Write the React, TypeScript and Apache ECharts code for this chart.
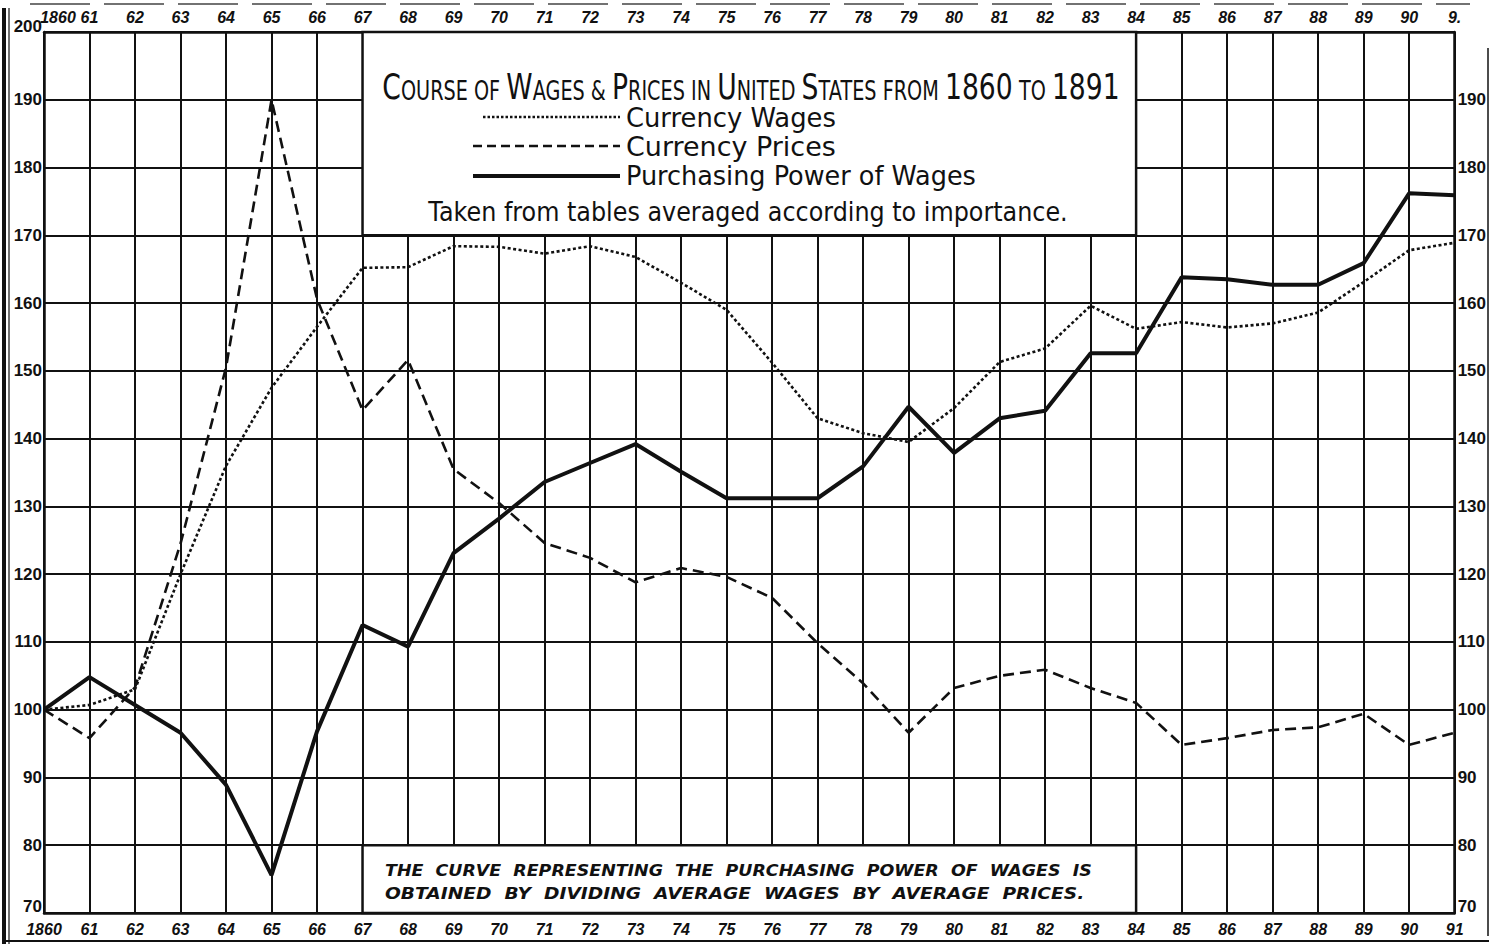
import React, { useEffect, useRef } from "react";
import * as echarts from "echarts";

// ---------------- data ----------------
const years: number[] = [
  1860, 1861, 1862, 1863, 1864, 1865, 1866, 1867, 1868, 1869, 1870, 1871, 1872, 1873, 1874, 1875,
  1876, 1877, 1878, 1879, 1880, 1881, 1882, 1883, 1884, 1885, 1886, 1887, 1888, 1889, 1890, 1891,
];

const currencyWages: number[] = [
  100, 100.7, 103, 120, 136, 147.5, 156.5, 165.2, 165.3, 168.4, 168.3, 167.3, 168.4, 166.8, 163, 159,
  151.2, 143, 140.8, 139.5, 144.5, 151.3, 153.3, 159.6, 156.2, 157.2, 156.4, 157, 158.6, 163.1, 167.8, 168.9,
];

const currencyPrices: number[] = [
  100, 95.8, 103.3, 124.5, 150.5, 190, 160.6, 144.2, 151.6, 135.5, 130.5, 124.6, 122.4, 118.8, 120.9, 119.6,
  116.5, 109.8, 103.9, 96.6, 103.2, 105, 105.9, 103.2, 101, 94.8, 95.8, 97, 97.4, 99.4, 94.8, 96.6,
];

const purchasingPower: number[] = [
  100, 104.8, 100.7, 96.6, 88.9, 75.6, 96.8, 112.5, 109.3, 123.1, 128.2, 133.6, 136.4, 139.2, 135.1, 131.2,
  131.2, 131.2, 135.9, 144.7, 137.9, 143, 144.1, 152.6, 152.6, 163.8, 163.5, 162.7, 162.7, 165.9, 176.2, 175.9,
];

const bottomYearLabels: string[] = [
  "1860", "61", "62", "63", "64", "65", "66", "67", "68", "69", "70", "71", "72", "73", "74", "75",
  "76", "77", "78", "79", "80", "81", "82", "83", "84", "85", "86", "87", "88", "89", "90", "91",
];
const topYearLabels: string[] = [
  "1860", "61", "62", "63", "64", "65", "66", "67", "68", "69", "70", "71", "72", "73", "74", "75",
  "76", "77", "78", "79", "80", "81", "82", "83", "84", "85", "86", "87", "88", "89", "90", "9.",
];

const seriesNames: string[] = ["Currency Wages", "Currency Prices", "Purchasing Power of Wages"];

const titleParts: [string, "b" | "s"][] = [
  ["C", "b"], ["OURSE OF ", "s"], ["W", "b"], ["AGES & ", "s"], ["P", "b"], ["RICES IN ", "s"],
  ["U", "b"], ["NITED ", "s"], ["S", "b"], ["TATES FROM ", "s"], ["1860", "b"], [" TO ", "s"], ["1891", "b"],
];
const subtitleText = "Taken from tables averaged according to importance.";
const noteLines: string[] = [
  "THE  CURVE  REPRESENTING  THE  PURCHASING  POWER  OF  WAGES  IS",
  "OBTAINED  BY  DIVIDING  AVERAGE  WAGES  BY  AVERAGE  PRICES.",
];

// ---------------- helpers ----------------
const FONT = "'DejaVu Sans', 'Noto Sans', sans-serif";
const NUMFONT = "'Liberation Sans', Arial, sans-serif";
const INK = "#111";

function measure(text: string, font: string): number {
  const c = document.createElement("canvas");
  const ctx = c.getContext("2d");
  if (!ctx) return text.length * 10;
  ctx.font = font;
  return ctx.measureText(text).width;
}

export default function App() {
  const ref = useRef<HTMLDivElement>(null);

  useEffect(() => {
    if (!ref.current) return;
    const chart = echarts.init(ref.current, undefined, { renderer: "svg" });

    const BIG = 36;
    const SMALL = 26;
    const titleW = titleParts.reduce(
      (s, [t, k]) => s + measure(t, `${k === "b" ? BIG : SMALL}px ${FONT}`),
      0
    );
    const titleScale = 737 / titleW;
    const richTitle = titleParts.map(([t, k]) => `{${k}|${t}}`).join("");

    const LEG = 27;
    const legendScale = (text: string, w: number) => w / measure(text, `${LEG}px ${FONT}`);
    const subScale = 640 / measure(subtitleText, `${LEG}px ${FONT}`);
    const NOTE = 16;
    const noteFont = `italic bold ${NOTE}px ${FONT}`;
    const noteScale1 = 707 / measure(noteLines[0], noteFont);
    const noteScale2 = 700 / measure(noteLines[1], noteFont);

    const mkText = (
      x: number, y: number, text: string, size: number, sx: number,
      align: string, extra: Record<string, any> = {}
    ) => ({
      type: "text",
      x, y, scaleX: sx, z: 100,
      style: {
        text, fill: INK, fontSize: size, fontFamily: FONT,
        align, textAlign: align, verticalAlign: "middle", textVerticalAlign: "middle",
        ...extra,
      },
    });

    const legendLine = (x1: number, x2: number, y: number, w: number, dash: number[] | null) => ({
      type: "line", z: 100,
      shape: { x1, y1: y, x2, y2: y },
      style: { stroke: INK, lineWidth: w, lineDash: dash || undefined },
    });

    const yFont = { color: INK, fontSize: 17, fontWeight: "bold", fontFamily: NUMFONT };
    const yRich = {
      hi: { ...yFont, lineHeight: 16, padding: [0, 0, 12, 0] },
      lo: { ...yFont, lineHeight: 16, padding: [0, 0, 14, 0] },
      n: { ...yFont },
    };
    const yFormatter = (hide200: boolean) => (v: number) => {
      if (v === 200) return hide200 ? "" : `{hi|${v}}`;
      if (v === 70) return `{lo|${v}}`;
      return `{n|${v}}`;
    };
    const xFont = { color: INK, fontSize: 16, fontWeight: "bold", fontStyle: "italic", fontFamily: NUMFONT };
    const xRich = {
      first: { ...xFont, padding: [0, 0, 0, 28] },
      n: { ...xFont },
    };

    const option: any = {
      animation: false,
      backgroundColor: "#fff",
      grid: { left: 44, right: 34, top: 32, bottom: 34, containLabel: false },
      xAxis: [
        {
          type: "value", position: "bottom", min: 1860, max: 1891, interval: 1,
          axisLine: { show: true, lineStyle: { color: INK, width: 2.5 } },
          axisTick: { show: false },
          splitLine: { show: true, lineStyle: { color: INK, width: 2 } },
          axisLabel: { ...xFont, margin: 8, formatter: (v: number) => bottomYearLabels[v - 1860] ?? "" },
        },
        {
          type: "value", position: "top", min: 1860, max: 1891, interval: 1,
          axisLine: { show: true, lineStyle: { color: INK, width: 2.5 } },
          axisTick: { show: false },
          splitLine: { show: false },
          axisLabel: {
            ...xFont, margin: 7, rich: xRich,
            formatter: (v: number) => {
              const t = topYearLabels[v - 1860] ?? "";
              return v === 1860 ? `{first|${t}}` : `{n|${t}}`;
            },
          },
        },
      ],
      yAxis: [
        {
          type: "value", position: "left", min: 70, max: 200, interval: 10,
          axisLine: { show: true, lineStyle: { color: INK, width: 2.5 } },
          axisTick: { show: false },
          splitLine: { show: true, lineStyle: { color: INK, width: 2 } },
          axisLabel: { ...yFont, margin: 2, formatter: yFormatter(false), rich: yRich },
        },
        {
          type: "value", position: "right", min: 70, max: 200, interval: 10,
          axisLine: { show: true, lineStyle: { color: INK, width: 2.5 } },
          axisTick: { show: false },
          splitLine: { show: false },
          axisLabel: { ...yFont, margin: 3, formatter: yFormatter(true), rich: yRich },
        },
      ],
      series: [
        {
          name: seriesNames[0], type: "line", xAxisIndex: 0, yAxisIndex: 0,
          data: years.map((y, i) => [y, currencyWages[i]]),
          showSymbol: false, silent: true, z: 3,
          lineStyle: { color: INK, width: 2.6, type: [3, 2.5] },
        },
        {
          name: seriesNames[1], type: "line", xAxisIndex: 0, yAxisIndex: 0,
          data: years.map((y, i) => [y, currencyPrices[i]]),
          showSymbol: false, silent: true, z: 3,
          lineStyle: { color: INK, width: 2.6, type: [11, 6] },
        },
        {
          name: seriesNames[2], type: "line", xAxisIndex: 0, yAxisIndex: 0,
          data: years.map((y, i) => [y, purchasingPower[i]]),
          showSymbol: false, silent: true, z: 4,
          lineStyle: { color: INK, width: 4 },
          markArea: {
            silent: true,
            z: 1,
            label: { show: false },
            itemStyle: { color: "#fff", borderColor: INK, borderWidth: 2.5, opacity: 1 },
            data: [
              [{ coord: [1867, 200] }, { coord: [1884, 170] }],
              [{ coord: [1867, 80] }, { coord: [1884, 70] }],
            ],
          },
        },
      ],
      graphic: [
        // scan frame
        { type: "line", z: 100, shape: { x1: 4, y1: 8, x2: 4, y2: 944 }, style: { stroke: INK, lineWidth: 4 } },
        { type: "line", z: 100, shape: { x1: 9, y1: 8, x2: 9, y2: 944 }, style: { stroke: INK, lineWidth: 1.2 } },
        { type: "line", z: 100, shape: { x1: 4, y1: 941, x2: 1489, y2: 941 }, style: { stroke: INK, lineWidth: 2 } },
        { type: "line", z: 100, shape: { x1: 30, y1: 4, x2: 1470, y2: 4 }, style: { stroke: "#444", lineWidth: 1.5, lineDash: [60, 14] } },
        { type: "line", z: 100, shape: { x1: 1488, y1: 48, x2: 1488, y2: 936 }, style: { stroke: INK, lineWidth: 1.5 } },
        // title block
        {
          type: "text", x: 751, y: 84, scaleX: titleScale, z: 100,
          style: {
            text: richTitle, fill: INK, fontFamily: FONT,
            align: "center", textAlign: "center", verticalAlign: "middle", textVerticalAlign: "middle",
            rich: {
              b: { fontSize: BIG, fontFamily: FONT, fill: INK, verticalAlign: "bottom", lineHeight: 40 },
              s: { fontSize: SMALL, fontFamily: FONT, fill: INK, verticalAlign: "bottom", lineHeight: 40 },
            },
          },
        },
        legendLine(483, 620, 117, 2.5, [2.5, 2]),
        legendLine(473, 620, 146, 2.5, [9, 5]),
        legendLine(473, 620, 176, 4, null),
        mkText(626, 117, seriesNames[0], LEG, legendScale(seriesNames[0], 210), "left"),
        mkText(626, 146, seriesNames[1], LEG, legendScale(seriesNames[1], 210), "left"),
        mkText(626, 176, seriesNames[2], LEG, legendScale(seriesNames[2], 350), "left"),
        mkText(748, 211, subtitleText, LEG, subScale, "center"),
        mkText(385, 870, noteLines[0], NOTE, noteScale1, "left", { fontStyle: "italic", fontWeight: "bold" }),
        mkText(385, 893, noteLines[1], NOTE, noteScale2, "left", { fontStyle: "italic", fontWeight: "bold" }),
      ],
    };

    chart.setOption(option);
    return () => chart.dispose();
  }, []);

  return (
    <div
      ref={ref}
      style={{ position: "absolute", left: 0, top: 0, width: 1489, height: 947, background: "#fff" }}
    />
  );
}
